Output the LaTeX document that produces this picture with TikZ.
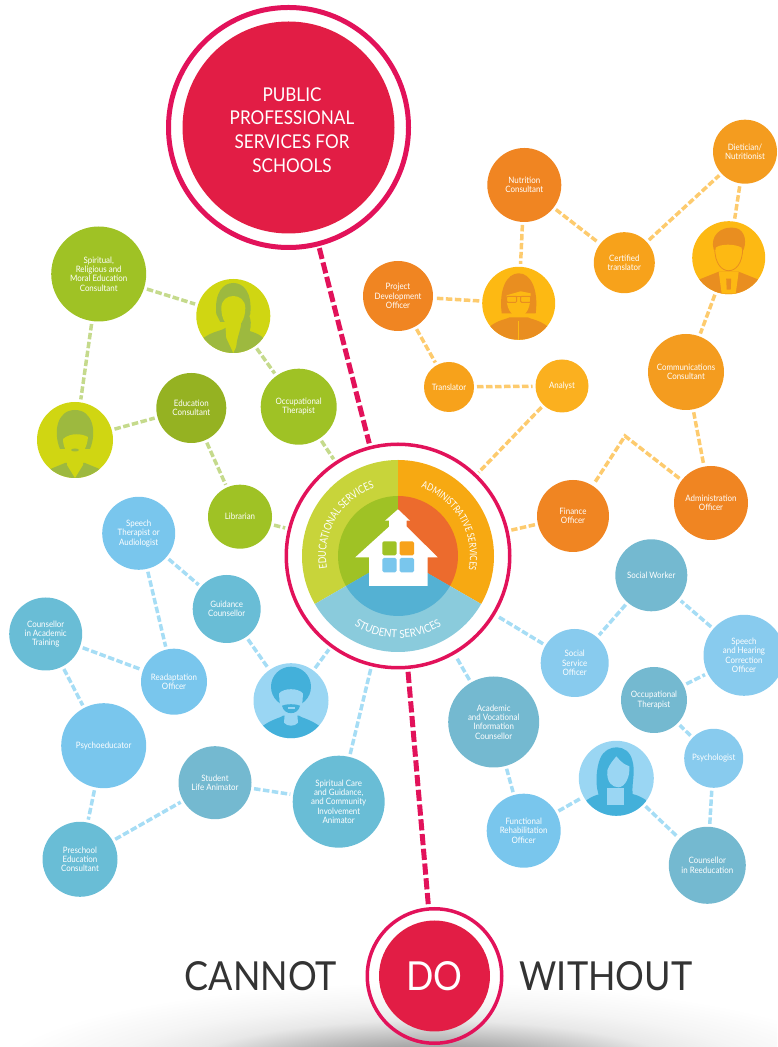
\documentclass[tikz,border=0pt]{standalone}
\usepackage{fontspec}
\setmainfont{Lato}[FakeStretch=0.9]
\newfontfamily\curvefont{Lato}[FakeStretch=0.8]
\usetikzlibrary{decorations.text}

\definecolor{pinkring}{HTML}{E2125A}
\definecolor{pinkdisc}{HTML}{E21D45}
\definecolor{greenA}{HTML}{9FC225}
\definecolor{greenB}{HTML}{95B222}
\definecolor{greenface}{HTML}{D0D612}
\definecolor{greensil}{HTML}{9DB93F}
\definecolor{greenlink}{HTML}{C5DA8C}
\definecolor{greenout}{HTML}{C8D43A}
\definecolor{orangeA}{HTML}{F08522}
\definecolor{orangeB}{HTML}{F7A21B}
\definecolor{orangeC}{HTML}{F49C1F}
\definecolor{orangeD}{HTML}{FBB01F}
\definecolor{orangeface}{HTML}{FDB913}
\definecolor{orangesil}{HTML}{E98E20}
\definecolor{orangelink}{HTML}{FDCB6E}
\definecolor{orangeout}{HTML}{F7A912}
\definecolor{orangein}{HTML}{EC6B2D}
\definecolor{blueA}{HTML}{79C6ED}
\definecolor{blueB}{HTML}{69BDD6}
\definecolor{blueC}{HTML}{74B9D0}
\definecolor{blueD}{HTML}{88CBEE}
\definecolor{blueface}{HTML}{9AD6F3}
\definecolor{bluesil}{HTML}{43B0DA}
\definecolor{bluelink}{HTML}{A6DDF5}
\definecolor{blueout}{HTML}{8ACBDC}
\definecolor{bluein}{HTML}{54B1D3}

\pgfdeclareradialshading{bottomglow}{\pgfpoint{0bp}{0bp}}{color(0bp)=(black!55); color(8bp)=(black!35); color(15bp)=(black!9); color(19bp)=(black!4); color(25bp)=(white); color(50bp)=(white)}

\tikzset{
	bubble/.style={circle,inner sep=0pt,outer sep=3pt,text=white,align=center,font=\fontsize{8.8}{9.3}\selectfont},
	ring/.style={circle,draw=pinkring,inner sep=0pt,outer sep=4.5pt},
	link/.style={line width=3.5pt,dash pattern=on 6.5pt off 2.5pt},
	pinklink/.style={draw=pinkring,line width=5pt,dash pattern=on 11.2pt off 3.6pt},
	bigword/.style={inner sep=0pt,text=black!80,font=\fontsize{40}{40}\selectfont},
}

\begin{document}
\begin{tikzpicture}[x=1pt,y=1pt]
	\useasboundingbox (0,0) rectangle (777,1047);

	% shadow under the bottom
	\begin{scope}
		\clip (0,0) rectangle (777,70);
		\shade[shading=bottomglow] (430,-30) ellipse (440 and 95);
	\end{scope}

	% top and bottom discs
	\node[ring,line width=5pt,minimum size=240pt] (public) at (288.5,919.5) {};
	\node[circle,inner sep=0pt,fill=pinkdisc,minimum size=212pt] (publicdisc) at (288.5,919.5) {};
	\node[inner sep=0pt,text=white,align=center,font=\fontsize{19}{23.6}\selectfont] (publictext) at (292,917) {PUBLIC\\PROFESSIONAL\\SERVICES FOR\\SCHOOLS};
	\node[ring,line width=3.5pt,minimum size=134.5pt] (do) at (434.5,71) {};
	\node[circle,inner sep=0pt,fill=pinkdisc,minimum size=111pt,text=white,font=\fontsize{40}{40}\selectfont] (dodisc) at (434.5,71) {DO};
	\node[bigword] (cannot) at (261,71) {CANNOT};
	\node[bigword] (without) at (606,71) {WITHOUT};

	% the hub
	\node[ring,line width=3.5pt,minimum size=223.5pt] (hub) at (398,491) {};
	\fill[greenout] (hub.center) -- ++(210:96) arc [start angle=210, end angle=90, radius=96] -- cycle;
	\fill[orangeout] (hub.center) -- ++(90:96) arc [start angle=90, end angle=-30, radius=96] -- cycle;
	\fill[blueout] (hub.center) -- ++(-30:96) arc [start angle=-30, end angle=-150, radius=96] -- cycle;
	\fill[greenA] (hub.center) -- ++(210:60) arc [start angle=210, end angle=90, radius=60] -- cycle;
	\fill[orangein] (hub.center) -- ++(90:60) arc [start angle=90, end angle=-30, radius=60] -- cycle;
	\fill[bluein] (hub.center) -- ++(-30:60) arc [start angle=-30, end angle=-150, radius=60] -- cycle;
	\path[decorate,decoration={text along path,text align=center,text={|\curvefont\fontsize{10.8}{10.8}\selectfont\color{white}|EDUCATIONAL SERVICES}}]
		([shift={(205:72)}]hub.center) arc [start angle=205, end angle=94, radius=72];
	\path[decorate,decoration={text along path,text align=center,text={|\curvefont\fontsize{10}{10}\selectfont\color{white}|ADMINISTRATIVE SERVICES}}]
		([shift={(88:72)}]hub.center) arc [start angle=88, end angle=-28, radius=72];
	\path[decorate,decoration={text along path,text align=center,text={|\fontsize{11}{11}\selectfont\color{white}|STUDENT SERVICES}}]
		([shift={(215:82)}]hub.center) arc [start angle=215, end angle=325, radius=82];

	% the house
	\fill[white] (398,537.7) -- (410,526.3) -- (406.7,526.3) -- (406.7,520.3) -- (437.7,489.7) -- (427.7,489.7)
		-- (427.7,461) -- (369,461) -- (369,489.7) -- (355.3,489.7) -- (389,520.3) -- (389,526.3) -- (385,526.3) -- cycle;
	\fill[greenA,rounded corners=1.5pt] (382.3,491.7) rectangle (396.7,505.7);
	\fill[orangeB,rounded corners=1.5pt] (399.7,491.7) rectangle (414,505.7);
	\fill[blueA,rounded corners=1.5pt] (382.3,474.7) rectangle (396.7,489);
	\fill[blueA,rounded corners=1.5pt] (399.7,474.7) rectangle (414,489);

	% green bubbles
	\node[bubble,fill=greenA,minimum size=95pt] (spiritual) at (98.7,773) {Spiritual,\\Religious and\\Moral Education\\Consultant};
	\node[bubble,fill=greenface,minimum size=74pt] (womanA) at (233.3,731) {};
	\node[bubble,fill=greenface,minimum size=76pt] (womanB) at (75,607) {};
	\node[bubble,fill=greenB,minimum size=70pt] (educons) at (191.3,639) {Education\\Consultant};
	\node[bubble,fill=greenA,minimum size=76pt] (occgreen) at (298.7,640.3) {Occupational\\Therapist};
	\node[bubble,fill=greenA,minimum size=64pt] (librarian) at (240,530.3) {Librarian};

	% orange bubbles
	\node[bubble,fill=orangeA,minimum size=74pt] (nutrition) at (524.3,862) {Nutrition\\Consultant};
	\node[bubble,fill=orangeB,minimum size=61pt] (certified) at (624.3,784.3) {Certified\\translator};
	\node[bubble,fill=orangeC,minimum size=64pt] (dietician) at (745,895.3) {Dietician/\\Nutritionist};
	\node[bubble,fill=orangeface,minimum size=73pt] (glasses) at (518.7,743.7) {};
	\node[bubble,fill=orangeface,minimum size=73pt] (suited) at (728.7,789.3) {};
	\node[bubble,fill=orangeA,minimum size=70pt] (project) at (398,751) {Project\\Development\\Officer};
	\node[bubble,fill=orangeB,minimum size=50pt] (translator) at (449,660) {Translator};
	\node[bubble,fill=orangeD,minimum size=53pt] (analyst) at (562,661) {Analyst};
	\node[bubble,fill=orangeC,minimum size=76pt] (communications) at (686,675) {Communications\\Consultant};
	\node[bubble,fill=orangeA,minimum size=74pt] (administration) at (711,544) {Administration\\Officer};
	\node[bubble,fill=orangeA,minimum size=72pt] (finance) at (573,531) {Finance\\Officer};
	\coordinate (financebend) at (625,611);

	% blue bubbles on the left
	\node[bubble,fill=blueA,minimum size=73pt] (speechther) at (138.7,513.7) {Speech\\Therapist or\\Audiologist};
	\node[bubble,fill=blueB,minimum size=68pt] (guidance) at (226.7,438) {Guidance\\Counsellor};
	\node[bubble,fill=blueB,minimum size=73pt] (counsacad) at (45.7,413) {Counsellor\\in Academic\\Training};
	\node[bubble,fill=blueA,minimum size=66pt] (readapt) at (174,365.3) {Readaptation\\Officer};
	\node[bubble,fill=blueA,minimum size=85pt] (psychoed) at (103.7,301.3) {Psychoeducator};
	\node[bubble,fill=blueC,minimum size=73pt] (studentlife) at (215,264.3) {Student\\Life Animator};
	\node[bubble,fill=blueB,minimum size=92pt] (spiritcare) at (338.7,245.3) {Spiritual Care\\and Guidance,\\and Community\\Involvement\\Animator};
	\node[bubble,fill=blueB,minimum size=75pt] (preschool) at (80,187.7) {Preschool\\Education\\Consultant};
	\node[bubble,fill=blueface,minimum size=75pt] (manafro) at (291,346.3) {};

	% blue bubbles on the right
	\node[bubble,fill=blueC,minimum size=91pt] (academic) at (493.7,325) {Academic\\and Vocational\\Information\\Counsellor};
	\node[bubble,fill=blueA,minimum size=74pt] (functional) at (523.7,216.3) {Functional\\Rehabilitation\\Officer};
	\node[bubble,fill=blueface,minimum size=75pt] (womanC) at (616.3,268.7) {};
	\node[bubble,fill=blueD,minimum size=68pt] (socialserv) at (574.7,384) {Social\\Service\\Officer};
	\node[bubble,fill=blueC,minimum size=72pt] (socialworker) at (651.3,471.7) {Social Worker};
	\node[bubble,fill=blueD,minimum size=81pt] (speechhear) at (744,391.7) {Speech\\and Hearing\\Correction\\Officer};
	\node[bubble,fill=blueC,minimum size=66pt] (occblue) at (654,347) {Occupational\\Therapist};
	\node[bubble,fill=blueD,minimum size=59pt] (psychologist) at (713.7,288.7) {Psychologist};
	\node[bubble,fill=blueC,minimum size=77pt] (counsreed) at (707.3,181.7) {Counsellor\\in Reeducation};

	% green woman with ponytail
	\begin{scope}[shift={(womanA.center)}]
		\clip (0,0) circle (37);
		\fill[greensil] (-30,-22) .. controls (-20,-15) and (-12,-15) .. (-8,-12) -- (8,-12) .. controls (14,-15) and (24,-16) .. (30,-22) -- (30,-40) -- (-30,-40) -- cycle;
		\fill[greenface] (-8,-8) -- (8,-8) -- (7,-22) -- (0,-37) -- (-7,-22) -- cycle;
		\fill[greensil] (-17,2) .. controls (-19,24) and (-10,33) .. (0,33) .. controls (10,33) and (19,24) .. (17,2) -- (13,-6) -- (-13,-6) -- cycle;
		\fill[greensil] (15,2) .. controls (21,-8) and (16,-24) .. (3,-36) .. controls (2,-24) and (8,-14) .. (8,-6) -- cycle;
		\fill[greenface] (-12,8) .. controls (-12,-4) and (-6,-12) .. (0,-12) .. controls (6,-12) and (12,-4) .. (12,8) .. controls (12,16) and (6,20) .. (0,20) .. controls (-6,20) and (-12,16) .. (-12,8) -- cycle;
	\end{scope}

	% green woman with short hair
	\begin{scope}[shift={(womanB.center)}]
		\clip (0,0) circle (38);
		\fill[greensil] (-27,-30) -- (-10,-23) -- (10,-23) -- (27,-30) -- (27,-40) -- (-27,-40) -- cycle;
		\fill[greenface] (-8,-14) -- (8,-14) -- (8,-25) -- (0,-38) -- (-8,-25) -- cycle;
		\fill[greensil] (-15,-9) .. controls (-22,8) and (-18,30) .. (0,30) .. controls (18,30) and (22,8) .. (15,-9) -- cycle;
		\fill[greenface] (-12,1) .. controls (-12,-9) and (-6,-17) .. (0,-17) .. controls (6,-17) and (12,-9) .. (13,3) .. controls (8,6) and (-4,8) .. (-12,1) -- cycle;
		\fill[greensil] (0,-10) ellipse (4 and 1.5);
	\end{scope}

	% orange woman with glasses
	\begin{scope}[shift={(glasses.center)}]
		\clip (0,0) circle (36.5);
		\fill[orangesil] (-30,-24) .. controls (-20,-16) and (-12,-16) .. (-9,-14) -- (9,-14) .. controls (12,-16) and (20,-16) .. (30,-24) -- (30,-40) -- (-30,-40) -- cycle;
		\fill[orangeface] (-0.5,-18) rectangle (0.5,-40);
		\fill[orangesil] (-17,-10) .. controls (-20,14) and (-12,30) .. (0,30) .. controls (12,30) and (20,14) .. (17,-10) -- cycle;
		\fill[orangeface] (-12,8) .. controls (-13,-4) and (-8,-13) .. (0,-13) .. controls (8,-13) and (12,-4) .. (12,10) -- (2,12) -- cycle;
		\draw[orangesil,line width=1pt] (-12,7) -- (12,7);
		\draw[orangesil,line width=1pt,rounded corners=1pt] (-12,7) rectangle (-2,1);
		\draw[orangesil,line width=1pt,rounded corners=1pt] (2,7) rectangle (12,1);
	\end{scope}

	% orange man with tie
	\begin{scope}[shift={(suited.center)}]
		\clip (0,0) circle (36.5);
		\fill[orangesil] (-30,-22) -- (-10,-14) -- (10,-14) -- (30,-22) -- (30,-40) -- (-30,-40) -- cycle;
		\fill[orangeface] (-10,-14) -- (10,-14) -- (7,-36) -- (-7,-36) -- cycle;
		\fill[orangesil] (-2.5,-21) -- (2.5,-21) -- (2,-32) -- (-2,-32) -- cycle;
		\fill[orangesil] (-15,8) .. controls (-19,22) and (-8,31) .. (4,30) .. controls (14,30) and (19,20) .. (15,8) -- cycle;
		\fill[orangeface] (-13,10) .. controls (-14,-6) and (-7,-13) .. (0,-13) .. controls (7,-13) and (14,-6) .. (13,10) .. controls (6,14) and (-8,14) .. (-13,10) -- cycle;
		\draw[orangesil,line width=.8pt] (-14,10) .. controls (-14,-6) and (-7,-13) .. (0,-13) .. controls (7,-13) and (14,-6) .. (14,10);
	\end{scope}

	% blue man with beard
	\begin{scope}[shift={(manafro.center)}]
		\clip (0,0) circle (37.5);
		\fill[bluesil] (-28,-25) .. controls (-18,-18) and (-10,-17) .. (-8,-15) -- (8,-15) .. controls (10,-17) and (18,-18) .. (28,-25) -- (28,-40) -- (-28,-40) -- cycle;
		\fill[blueface] (-6,-10) -- (6,-10) -- (7,-22) .. controls (4,-26) and (-4,-26) .. (-7,-22) -- cycle;
		\fill[bluesil] (0,14) circle (20);
		\fill[blueface] (-12,7) .. controls (-8,13) and (8,13) .. (12,7) -- (11,-8) .. controls (7,-17) and (-7,-17) .. (-11,-8) -- cycle;
		\fill[bluesil] (-9,-5) .. controls (-5,-3) and (5,-3) .. (9,-5) .. controls (7,-15) and (-7,-15) .. (-9,-5) -- cycle;
		\fill[blueface] (-3.5,-8) rectangle (3.5,-6.5);
	\end{scope}

	% blue woman with long hair
	\begin{scope}[shift={(womanC.center)}]
		\clip (0,0) circle (37.5);
		\fill[bluesil] (-30,-22) .. controls (-20,-15) and (-12,-15) .. (-8,-15) -- (8,-15) .. controls (12,-15) and (20,-15) .. (30,-22) -- (30,-40) -- (-30,-40) -- cycle;
		\fill[bluesil] (-16,-20) .. controls (-22,-10) and (-20,12) .. (-16,20) .. controls (-10,35) and (12,35) .. (16,18) .. controls (20,5) and (14,-8) .. (17,-20) -- cycle;
		\fill[blueface] (-9,-10) -- (8,-10) -- (8,-27) -- (-9,-27) -- cycle;
		\fill[blueface] (-9,8) .. controls (-10,-4) and (-4,-9) .. (2,-9) .. controls (9,-9) and (14,2) .. (13,12) .. controls (6,14) and (2,20) .. (0,22) .. controls (-3,18) and (-7,14) .. (-9,8) -- cycle;
	\end{scope}

	% pink connectors
	\draw[pinklink] (public) -- (hub);
	\draw[pinklink] (hub) -- (do);

	% green connectors
	\draw[link,draw=greenlink] (spiritual) -- (womanA);
	\draw[link,draw=greenlink] (womanA) -- (occgreen);
	\draw[link,draw=greenlink] (spiritual) -- (womanB);
	\draw[link,draw=greenlink] (womanB) -- (educons);
	\draw[link,draw=greenlink] (educons) -- (librarian);
	\draw[link,draw=greenlink] (librarian) -- (hub);
	\draw[link,draw=greenlink] (occgreen) -- (hub);

	% orange connectors
	\draw[link,draw=orangelink] (nutrition) -- (glasses);
	\draw[link,draw=orangelink] (nutrition) -- (certified);
	\draw[link,draw=orangelink] (certified) -- (dietician);
	\draw[link,draw=orangelink] (dietician) -- (suited);
	\draw[link,draw=orangelink] (suited) -- (communications);
	\draw[link,draw=orangelink] (communications) -- (administration);
	\draw[link,draw=orangelink] (administration) -- (financebend) -- (finance);
	\draw[link,draw=orangelink] (finance) -- (hub);
	\draw[link,draw=orangelink] (glasses) -- (project);
	\draw[link,draw=orangelink] (project) -- (translator);
	\draw[link,draw=orangelink] (translator) -- (analyst);
	\draw[link,draw=orangelink] (analyst) -- (hub);

	% blue connectors
	\draw[link,draw=bluelink] (speechther) -- (guidance);
	\draw[link,draw=bluelink] (speechther) -- (readapt);
	\draw[link,draw=bluelink] (guidance) -- (manafro);
	\draw[link,draw=bluelink] (manafro) -- (hub);
	\draw[link,draw=bluelink] (counsacad) -- (readapt);
	\draw[link,draw=bluelink] (counsacad) -- (psychoed);
	\draw[link,draw=bluelink] (psychoed) -- (preschool);
	\draw[link,draw=bluelink] (preschool) -- (studentlife);
	\draw[link,draw=bluelink] (studentlife) -- (spiritcare);
	\draw[link,draw=bluelink] (spiritcare) -- (hub);
	\draw[link,draw=bluelink] (academic) -- (hub);
	\draw[link,draw=bluelink] (academic) -- (functional);
	\draw[link,draw=bluelink] (functional) -- (womanC);
	\draw[link,draw=bluelink] (womanC) -- (counsreed);
	\draw[link,draw=bluelink] (counsreed) -- (psychologist);
	\draw[link,draw=bluelink] (psychologist) -- (occblue);
	\draw[link,draw=bluelink] (occblue) -- (speechhear);
	\draw[link,draw=bluelink] (speechhear) -- (socialworker);
	\draw[link,draw=bluelink] (socialworker) -- (socialserv);
	\draw[link,draw=bluelink] (socialserv) -- (hub);
\end{tikzpicture}
\end{document}
